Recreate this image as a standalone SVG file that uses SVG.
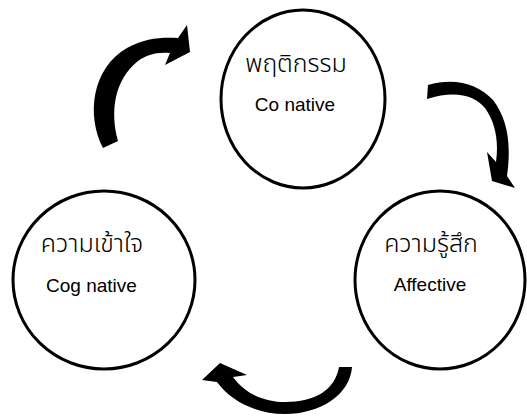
<svg xmlns="http://www.w3.org/2000/svg" width="527" height="417" viewBox="0 0 527 417">
<style>
.node ellipse{fill:#fff;stroke:#000;stroke-width:3}
.th{font-family:"Noto Sans Thai","Noto Sans","DejaVu Sans",sans-serif;font-size:25px;font-weight:300;fill:#000;text-anchor:middle}
.en{font-family:"Liberation Sans",Arial,sans-serif;font-size:19px;fill:#000;text-anchor:middle}
.arrow{fill:#000;stroke:none}
</style>
<rect width="527" height="417" fill="#fff"/>
<g id="node-behavior" class="node">
<ellipse cx="303" cy="99" rx="82" ry="89"/>
<text class="th" x="296" y="72">พฤติกรรม</text>
<text class="en" x="295" y="111">Co native</text>
</g>
<g id="node-cognitive" class="node">
<ellipse cx="104" cy="280" rx="91" ry="89"/>
<text class="th" x="92" y="252">ความเข้าใจ</text>
<text class="en" x="91.5" y="292">Cog native</text>
</g>
<g id="node-affective" class="node">
<ellipse cx="440" cy="280" rx="85" ry="89"/>
<text class="th" x="431" y="252">ความรู้สึก</text>
<text class="en" x="430" y="291">Affective</text>
</g>
<g id="connectors">
<path class="arrow" d="M103,148 C86,115 92,68 127,48 C145,38 162,37 178,38 L187,25 L190,52 L165,65 L170,53 C155,52 147,55 138,61 C114,80 110,112 118,141 Z"/>
<path class="arrow" d="M428,85 C455,77 478,84 493,100 C506,117 512,140 507,176 L515,188 L492,181 L487,152 L496,162 C499,140 495,122 485,108 C474,95 455,90 427,99 Z"/>
<path class="arrow" d="M352,367 C350,395 320,414 285,414 C255,414 230,400 217,382 L202,380 L220,363 L247,375 L233,377 C245,394 265,402 285,402 C315,402 335,390 339,367 Z"/>
</g>
</svg>
